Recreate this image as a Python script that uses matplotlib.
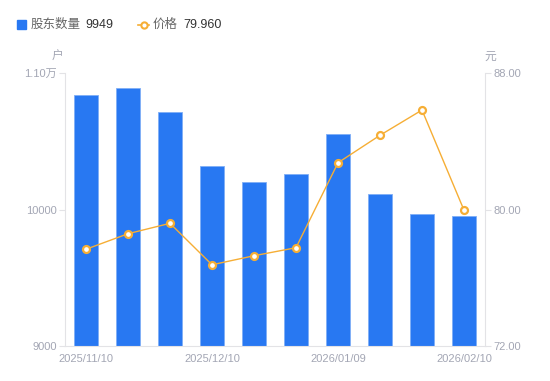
import matplotlib
matplotlib.use("Agg")
import matplotlib.pyplot as plt
from matplotlib.lines import Line2D
from matplotlib.patches import Rectangle

plt.rcParams['font.family'] = ['Liberation Sans', 'Noto Sans CJK SC', 'DejaVu Sans']

dates = ["2025/11/10", "2025/11/20", "2025/11/30", "2025/12/10", "2025/12/20",
         "2025/12/31", "2026/01/09", "2026/01/20", "2026/01/31", "2026/02/10"]
holders = [10840, 10888, 10712, 10317, 10199, 10258, 10551, 10116, 9969, 9949]
prices = [77.67, 78.58, 79.19, 76.76, 77.29, 77.76, 82.74, 84.35, 85.83, 79.96]
shown_ticks = [0, 3, 6, 9]
left_ticks = [9000, 10000, 11000]
left_labels = ["9000", "10000", "1.10万"]
right_ticks = [72, 80, 88]
right_labels = ["72.00", "80.00", "88.00"]

W, H = 550, 381
fig = plt.figure(figsize=(W / 100, H / 100), dpi=100)
ax = fig.add_axes([65 / W, 1 - 346 / H, 420 / W, 273 / H])
ax2 = ax.twinx()

bar_color = '#2878F2'
line_color = '#F6AE35'
grey = '#A3A6B4'
axis_c = '#E3E3E6'

x = list(range(len(dates)))
ax.bar(x, holders, width=0.57, color=bar_color, edgecolor='#7FAEF6', linewidth=0.6, zorder=2)
ax.set_xlim(-0.5, len(dates) - 0.5)
ax.set_ylim(9000, 11000)
ax2.set_ylim(72, 88)

ax2.plot(x, prices, color=line_color, linewidth=1.0, marker='o', markersize=5,
         markerfacecolor='white', markeredgecolor=line_color, markeredgewidth=1.6, zorder=3)

for a in (ax, ax2):
    for s in a.spines.values():
        s.set_visible(False)

ax.spines['left'].set_visible(True)
ax.spines['left'].set_color(axis_c)
ax.spines['bottom'].set_visible(True)
ax.spines['bottom'].set_color(axis_c)
ax2.spines['right'].set_visible(True)
ax2.spines['right'].set_color(axis_c)

ax.set_yticks(left_ticks)
ax.set_yticklabels(left_labels)
ax.tick_params(axis='y', colors=axis_c, labelcolor=grey, labelsize=8, length=4, width=0.8, pad=2)
ax2.set_yticks(right_ticks)
ax2.set_yticklabels(right_labels)
ax2.tick_params(axis='y', colors=axis_c, labelcolor=grey, labelsize=8, length=4, width=0.8, pad=2)

ax.set_xticks([x[i] for i in shown_ticks])
ax.set_xticklabels([dates[i] for i in shown_ticks])
ax.tick_params(axis='x', length=0, labelcolor=grey, labelsize=8, pad=6)

fig.text(58 / W, 1 - 57 / H, "户", color=grey, fontsize=8.5, ha='center', va='center')
fig.text(490 / W, 1 - 57 / H, "元", color=grey, fontsize=8.5, ha='center', va='center')

# legend
fig.patches.append(Rectangle((17 / W, 1 - 29 / H), 9 / W, 9 / H, transform=fig.transFigure,
                             color=bar_color, figure=fig))
fig.text(31 / W, 1 - 24.5 / H, "股东数量", color='#666', fontsize=9, ha='left', va='center')
fig.text(85 / W, 1 - 24.5 / H, str(holders[-1]), color='#333', fontsize=9, ha='left', va='center')
fig.lines.append(Line2D([138 / W, 149 / W], [1 - 24.5 / H, 1 - 24.5 / H], transform=fig.transFigure,
                        color=line_color, linewidth=1.2, figure=fig))
fig.lines.append(Line2D([143.5 / W], [1 - 24.5 / H], transform=fig.transFigure, marker='o',
                        markersize=4.5, markerfacecolor='white', markeredgecolor=line_color,
                        markeredgewidth=1.5, figure=fig))
fig.text(153 / W, 1 - 24.5 / H, "价格", color='#666', fontsize=9, ha='left', va='center')
fig.text(183 / W, 1 - 24.5 / H, "%.3f" % prices[-1], color='#333', fontsize=9, ha='left', va='center')

fig.savefig("out.png", dpi=100)
